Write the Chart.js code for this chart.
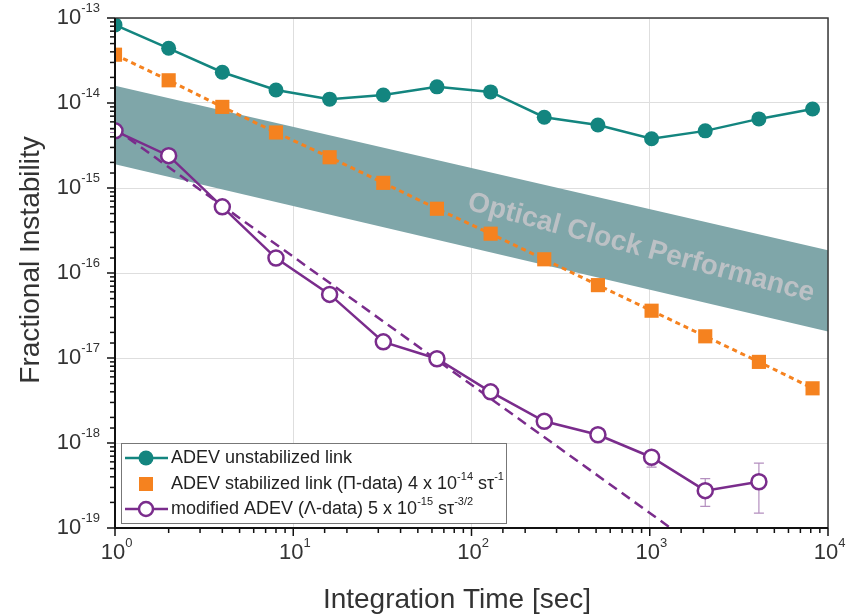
<!DOCTYPE html>
<html>
<head>
<meta charset="utf-8">
<script src="https://cdn.jsdelivr.net/npm/chart.js@4"></script>
<style>
  html, body { margin: 0; padding: 0; background: #fff; }
  #wrap { width: 848px; height: 616px; position: relative; }
</style>
</head>
<body>
<div id="wrap"><canvas id="chart"></canvas></div>
<script>
// Integration times (s)
const tau = [1, 2, 4, 8, 16, 32, 64, 128, 256, 512, 1024, 2048, 4096, 8192];

// ADEV unstabilized link
const adevFree = [8.3e-14, 4.4e-14, 2.3e-14, 1.42e-14, 1.11e-14, 1.24e-14, 1.55e-14, 1.35e-14,
  6.8e-15, 5.5e-15, 3.8e-15, 4.7e-15, 6.5e-15, 8.5e-15];

// ADEV stabilized link (Pi-data)
const adevStab = [3.7e-14, 1.85e-14, 9.0e-15, 4.5e-15, 2.3e-15, 1.15e-15, 5.7e-16, 2.9e-16,
  1.45e-16, 7.2e-17, 3.6e-17, 1.8e-17, 9.0e-18, 4.4e-18];

// modified ADEV (Lambda-data)
const tauMod = [1, 2, 4, 8, 16, 32, 64, 128, 256, 512, 1024, 2048, 4096];
const madev = [4.7e-15, 2.4e-15, 6.0e-16, 1.5e-16, 5.6e-17, 1.55e-17, 9.8e-18, 4.0e-18,
  1.8e-18, 1.25e-18, 6.8e-19, 2.75e-19, 3.5e-19];
const madevLo = [4.5e-15, 2.3e-15, 5.8e-16, 1.45e-16, 5.4e-17, 1.5e-17, 9.5e-18, 3.9e-18,
  1.75e-18, 1.2e-18, 5.2e-19, 1.8e-19, 1.5e-19];
const madevHi = [4.9e-15, 2.5e-15, 6.2e-16, 1.55e-16, 5.8e-17, 1.6e-17, 1.0e-17, 4.1e-18,
  1.85e-18, 1.3e-18, 7.6e-19, 3.8e-19, 5.8e-19];

// 5e-15 tau^-3/2 guide (end points)
const fitX = [1, 1310];
const fitY = [5.0e-15, 1.0e-19];

// Optical clock performance band (end points)
const bandX = [1, 10000];
const bandHi = [1.6e-14, 1.85e-16];
const bandLo = [1.9e-15, 2.05e-17];

const xTickLabels = ['0', '1', '2', '3', '4'];
const yTickLabels = ['-19', '-18', '-17', '-16', '-15', '-14', '-13'];

const TEAL = '#13857f';
const ORANGE = '#f5821f';
const PURPLE = '#7a2c8c';
const FONT = '"Liberation Sans", Arial, sans-serif';

function pts(xs, ys) {
  return xs.map((x, i) => ({ x: x, y: ys[i] }));
}

function isDecade(v) {
  const l = Math.log10(v);
  return Math.abs(l - Math.round(l)) < 1e-6;
}

// draw "10" with raised exponent
function drawPower(ctx, exp, cx, cy, align) {
  ctx.font = '22px ' + FONT;
  const wBase = ctx.measureText('10').width;
  ctx.font = '13px ' + FONT;
  const wExp = ctx.measureText(exp).width;
  let x0;
  if (align === 'right') x0 = cx - wBase - wExp;
  else x0 = cx - wBase / 2 - 2;
  ctx.fillStyle = '#333';
  ctx.textBaseline = 'middle';
  ctx.textAlign = 'left';
  ctx.font = '22px ' + FONT;
  ctx.fillText('10', x0, cy);
  ctx.font = '13px ' + FONT;
  ctx.fillText(exp, x0 + wBase, cy - 10);
}

// text made of normal and superscript pieces
function drawRich(ctx, parts, x, y) {
  ctx.textBaseline = 'middle';
  ctx.textAlign = 'left';
  ctx.fillStyle = '#222';
  parts.forEach(p => {
    ctx.font = (p[1] ? '11px ' : '18px ') + FONT;
    ctx.fillText(p[0], x, p[1] ? y - 7 : y);
    x += ctx.measureText(p[0]).width;
  });
}

const overlay = {
  id: 'overlay',
  beforeDatasetsDraw(chart) {
    // error bars of the modified ADEV
    const ctx = chart.ctx, xs = chart.scales.x, ys = chart.scales.y;
    ctx.save();
    ctx.strokeStyle = '#b48fbf';
    ctx.lineWidth = 1.2;
    tauMod.forEach((t, i) => {
      const px = xs.getPixelForValue(t);
      const lo = ys.getPixelForValue(madevLo[i]);
      const hi = ys.getPixelForValue(madevHi[i]);
      ctx.beginPath();
      ctx.moveTo(px, lo); ctx.lineTo(px, hi);
      ctx.moveTo(px - 5, lo); ctx.lineTo(px + 5, lo);
      ctx.moveTo(px - 5, hi); ctx.lineTo(px + 5, hi);
      ctx.stroke();
    });
    ctx.restore();
  },
  afterDatasetsDraw(chart) {
    const ctx = chart.ctx;
    ctx.save();
    // band label
    ctx.translate(641, 248);
    ctx.rotate(15 * Math.PI / 180);
    ctx.font = 'bold 28px ' + FONT;
    ctx.fillStyle = 'rgba(192,194,198,0.95)';
    ctx.textAlign = 'center';
    ctx.textBaseline = 'middle';
    ctx.fillText('Optical Clock Performance', 0, 0);
    ctx.restore();
  },
  afterDraw(chart) {
    const ctx = chart.ctx, xs = chart.scales.x, ys = chart.scales.y;
    const a = chart.chartArea;
    ctx.save();
    // frame
    ctx.strokeStyle = '#3a3a3a';
    ctx.lineWidth = 1.5;
    ctx.beginPath();
    ctx.moveTo(a.left, a.top); ctx.lineTo(a.right, a.top); ctx.lineTo(a.right, a.bottom);
    ctx.stroke();
    ctx.strokeStyle = '#111';
    ctx.lineWidth = 2;
    ctx.beginPath();
    ctx.moveTo(a.left, a.top); ctx.lineTo(a.left, a.bottom); ctx.lineTo(a.right, a.bottom);
    ctx.stroke();

    // tick marks
    ctx.lineWidth = 1.5;
    xs.ticks.forEach(t => {
      const px = xs.getPixelForValue(t.value);
      const len = isDecade(t.value) ? 8 : 5;
      ctx.beginPath();
      ctx.moveTo(px, a.bottom); ctx.lineTo(px, a.bottom + len);
      ctx.stroke();
    });
    ys.ticks.forEach(t => {
      const py = ys.getPixelForValue(t.value);
      const len = isDecade(t.value) ? 8 : 5;
      ctx.beginPath();
      ctx.moveTo(a.left, py); ctx.lineTo(a.left - len, py);
      ctx.stroke();
    });

    // tick labels
    xTickLabels.forEach((e, i) => {
      drawPower(ctx, e, xs.getPixelForValue(Math.pow(10, i)), a.bottom + 25, 'center');
    });
    yTickLabels.forEach((e, i) => {
      drawPower(ctx, e, 100, ys.getPixelForValue(Math.pow(10, -19 + i)), 'right');
    });

    // axis titles
    ctx.fillStyle = '#333';
    ctx.font = '28px ' + FONT;
    ctx.textAlign = 'center';
    ctx.textBaseline = 'middle';
    ctx.fillText('Integration Time [sec]', 457, 600);
    ctx.save();
    ctx.translate(31, 260);
    ctx.rotate(-Math.PI / 2);
    ctx.fillText('Fractional Instability', 0, 0);
    ctx.restore();

    // legend
    ctx.fillStyle = '#fff';
    ctx.fillRect(121, 443, 385, 80);
    ctx.strokeStyle = '#777';
    ctx.lineWidth = 1;
    ctx.strokeRect(121.5, 443.5, 385, 80);
    const rows = [458, 484, 509];
    // row 1
    ctx.strokeStyle = TEAL; ctx.lineWidth = 2.5;
    ctx.beginPath(); ctx.moveTo(125, rows[0]); ctx.lineTo(168, rows[0]); ctx.stroke();
    ctx.fillStyle = TEAL;
    ctx.beginPath(); ctx.arc(146, rows[0], 7.5, 0, 2 * Math.PI); ctx.fill();
    drawRich(ctx, [['ADEV unstabilized link']], 171, rows[0]);
    // row 2
    ctx.fillStyle = ORANGE;
    ctx.fillRect(139, rows[1] - 7, 14, 14);
    drawRich(ctx, [['ADEV stabilized link (\u03A0-data) 4 x 10'], ['-14', true], [' s\u03C4'], ['-1', true]], 171, rows[1]);
    // row 3
    ctx.strokeStyle = PURPLE; ctx.lineWidth = 2.5;
    ctx.beginPath(); ctx.moveTo(125, rows[2]); ctx.lineTo(168, rows[2]); ctx.stroke();
    ctx.fillStyle = '#fff';
    ctx.beginPath(); ctx.arc(146, rows[2], 7, 0, 2 * Math.PI); ctx.fill(); ctx.stroke();
    drawRich(ctx, [['modified ADEV (\u039B-data) 5 x 10'], ['-15', true], [' s\u03C4'], ['-3/2', true]], 171, rows[2]);
    ctx.restore();
  }
};

const ctx = document.getElementById('chart');
new Chart(ctx, {
  type: 'line',
  data: {
    datasets: [
      {
        label: 'band upper',
        data: pts(bandX, bandHi),
        borderWidth: 0,
        pointRadius: 0,
        backgroundColor: '#7fa6a9',
        fill: '+1',
        order: 10
      },
      {
        label: 'band lower',
        data: pts(bandX, bandLo),
        borderWidth: 0,
        pointRadius: 0,
        fill: false,
        order: 10
      },
      {
        label: 'fit',
        data: pts(fitX, fitY),
        borderColor: PURPLE,
        borderWidth: 2.5,
        borderDash: [10, 6],
        pointRadius: 0,
        fill: false,
        order: 5
      },
      {
        label: 'ADEV unstabilized link',
        data: pts(tau, adevFree),
        borderColor: TEAL,
        backgroundColor: TEAL,
        borderWidth: 2.5,
        pointRadius: 7.5,
        pointBackgroundColor: TEAL,
        pointBorderColor: TEAL,
        pointBorderWidth: 0,
        fill: false,
        order: 3
      },
      {
        label: 'ADEV stabilized link',
        data: pts(tau, adevStab),
        borderColor: ORANGE,
        backgroundColor: ORANGE,
        borderWidth: 3,
        borderDash: [5, 4],
        pointStyle: 'rect',
        pointRadius: 10,
        pointBackgroundColor: ORANGE,
        pointBorderWidth: 0,
        fill: false,
        order: 2
      },
      {
        label: 'modified ADEV',
        data: pts(tauMod, madev),
        borderColor: PURPLE,
        borderWidth: 2.5,
        pointRadius: 7.5,
        pointBackgroundColor: '#fff',
        pointBorderColor: PURPLE,
        pointBorderWidth: 2.5,
        fill: false,
        order: 1
      }
    ]
  },
  options: {
    responsive: true,
    maintainAspectRatio: false,
    animation: false,
    layout: { padding: { left: 115, top: 18, right: 20, bottom: 88 } },
    plugins: {
      legend: { display: false },
      tooltip: { enabled: false }
    },
    scales: {
      x: {
        type: 'logarithmic',
        min: 1,
        max: 10000,
        border: { display: false },
        ticks: { display: false },
        grid: {
          drawTicks: false,
          color: c => (c.tick && isDecade(c.tick.value)) ? '#dedede' : 'rgba(0,0,0,0)'
        },
        afterFit: s => { s.height = 0; }
      },
      y: {
        type: 'logarithmic',
        min: 1e-19,
        max: 1e-13,
        border: { display: false },
        ticks: { display: false },
        grid: {
          drawTicks: false,
          color: c => (c.tick && isDecade(c.tick.value)) ? '#dedede' : 'rgba(0,0,0,0)'
        },
        afterFit: s => { s.width = 0; }
      }
    }
  },
  plugins: [overlay]
});
</script>
</body>
</html>
